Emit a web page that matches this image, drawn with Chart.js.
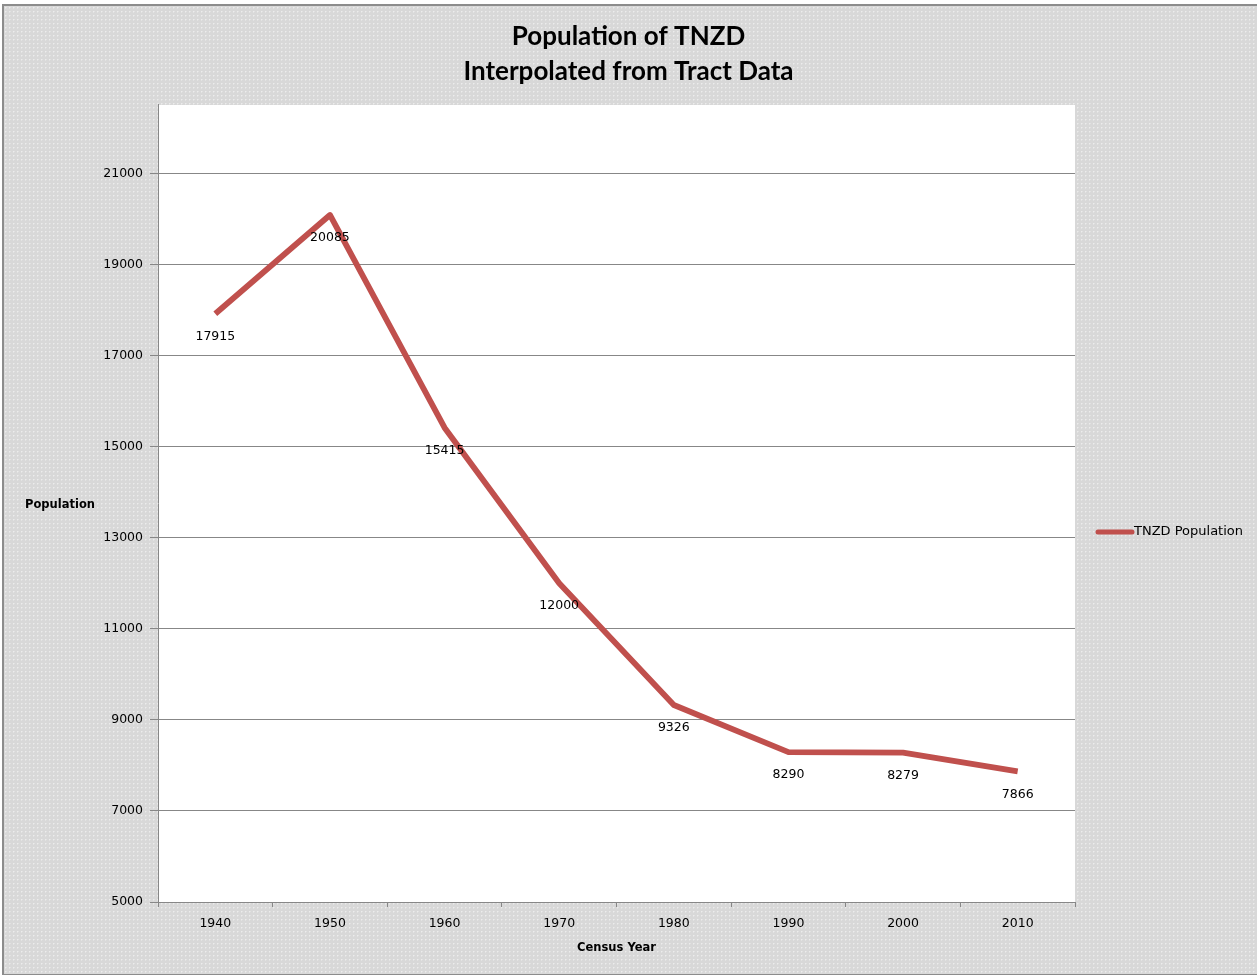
<!DOCTYPE html>
<html>
<head>
<meta charset="utf-8">
<script src="https://cdn.jsdelivr.net/npm/chart.js@4.4.1/dist/chart.umd.min.js"></script>
<style>
  html, body { margin: 0; padding: 0; overflow: hidden; background: #ffffff; }
  #bg {
    position: absolute; left: 2px; top: 4px; width: 1270px; height: 968px;
    border-left: 2px solid #8c8c8c; border-top: 2px solid #8c8c8c; border-bottom: 2px solid #8c8c8c;
    background-color: #d9d9d9;
  }
  #c { position: absolute; left: 0; top: 0; }
</style>
</head>
<body>
<div id="bg"></div>
<canvas id="c" width="1257" height="975"></canvas>
<script>
const years = ['1940', '1950', '1960', '1970', '1980', '1990', '2000', '2010'];
const population = [17915, 20085, 15415, 12000, 9326, 8290, 8279, 7866];
const yTicks = [5000, 7000, 9000, 11000, 13000, 15000, 17000, 19000, 21000];
const yMin = 5000;
const yMax = 22500;
const seriesName = 'TNZD Population';
const titleLines = ['Population of TNZD', 'Interpolated from Tract Data'];
const xTitle = 'Census Year';
const yTitle = 'Population';

const RED = '#c0504d';
const GRID = '#878787';
const tickFont = { family: 'DejaVu Sans', size: 12.5 };

// dotted background texture
(function () {
  const p = document.createElement('canvas');
  p.width = 4; p.height = 4;
  const g = p.getContext('2d');
  g.fillStyle = '#d8d8d8';
  g.fillRect(0, 0, 4, 4);
  g.fillStyle = '#ececec';
  g.fillRect(1, 1, 1, 1);
  g.fillStyle = '#e2e2e2';
  g.fillRect(2, 1, 1, 1);
  g.fillRect(1, 2, 1, 1);
  document.getElementById('bg').style.backgroundImage = 'url(' + p.toDataURL() + ')';
})();

const decor = {
  id: 'decor',
  beforeDraw(chart) {
    const { ctx, chartArea: a } = chart;
    ctx.save();
    ctx.fillStyle = '#ffffff';
    ctx.fillRect(a.left, a.top, a.right - a.left, a.bottom - a.top);
    ctx.restore();
  },
  afterDatasetsDraw(chart) {
    const { ctx } = chart;
    const meta = chart.getDatasetMeta(0);
    const data = chart.data.datasets[0].data;
    ctx.save();
    ctx.font = '12.5px "DejaVu Sans"';
    ctx.fillStyle = '#000';
    ctx.textAlign = 'center';
    ctx.textBaseline = 'middle';
    meta.data.forEach((pt, i) => {
      ctx.fillText(String(data[i]), pt.x, pt.y + 23);
    });
    ctx.restore();
  },
  afterDraw(chart) {
    const { ctx, chartArea: a } = chart;
    ctx.save();
    // y-axis title (horizontal)
    ctx.font = 'bold 11.5px "DejaVu Sans"';
    ctx.fillStyle = '#000';
    ctx.textAlign = 'center';
    ctx.textBaseline = 'middle';
    ctx.fillText(yTitle, 60, 505);
    // legend
    const ly = 532;
    const lx = a.right + 23;
    ctx.strokeStyle = RED;
    ctx.lineWidth = 5;
    ctx.lineCap = 'round';
    ctx.beginPath();
    ctx.moveTo(lx, ly);
    ctx.lineTo(lx + 34, ly);
    ctx.stroke();
    ctx.font = '13px "DejaVu Sans"';
    ctx.textAlign = 'left';
    ctx.fillText(chart.data.datasets[0].label, lx + 36, ly);
    ctx.restore();
  }
};

new Chart(document.getElementById('c'), {
  type: 'line',
  data: {
    labels: years,
    datasets: [{
      label: seriesName,
      data: population,
      borderColor: RED,
      backgroundColor: RED,
      borderWidth: 5.8,
      borderJoinStyle: 'round',
      pointRadius: 0,
      tension: 0,
      fill: false,
      yAxisID: 'y'
    }]
  },
  options: {
    responsive: false,
    devicePixelRatio: 1,
    animation: false,
    layout: { padding: { left: 0, right: 0, top: 0, bottom: 8 } },
    plugins: {
      legend: { display: false },
      tooltip: { enabled: false },
      title: {
        display: true,
        text: titleLines,
        color: '#000',
        font: { family: 'Lato', size: 26, weight: 'bold', lineHeight: 1.346 },
        padding: { top: 19.5, bottom: 15.5 }
      }
    },
    scales: {
      x: {
        type: 'category',
        offset: true,
        grid: { display: true, drawOnChartArea: false, drawTicks: true, tickLength: 5, color: GRID, offset: true },
        border: { display: true, color: GRID, width: 1 },
        ticks: { font: tickFont, color: '#000', padding: 9, maxRotation: 0 },
        title: {
          display: true, text: xTitle, color: '#000',
          font: { family: 'DejaVu Sans', size: 11.5, weight: 'bold' },
          padding: { top: 4, bottom: 12 }
        },
        afterFit(scale) { scale.height = 65; }
      },
      y: {
        position: 'left',
        min: yMin,
        max: yMax,
        grid: { display: true, drawTicks: true, tickLength: 8, color: GRID },
        border: { display: true, color: GRID, width: 1 },
        ticks: { font: tickFont, color: '#000', padding: 7, callback: (v) => String(v) },
        afterBuildTicks(axis) { axis.ticks = yTicks.map(v => ({ value: v })); },
        afterFit(scale) { scale.width = 158; }
      },
      legendSpace: {
        type: 'linear',
        position: 'right',
        display: true,
        grid: { display: false, drawTicks: false },
        border: { display: false },
        ticks: { display: false },
        afterFit(scale) { scale.width = 182; }
      }
    }
  },
  plugins: [decor]
});
</script>
</body>
</html>
